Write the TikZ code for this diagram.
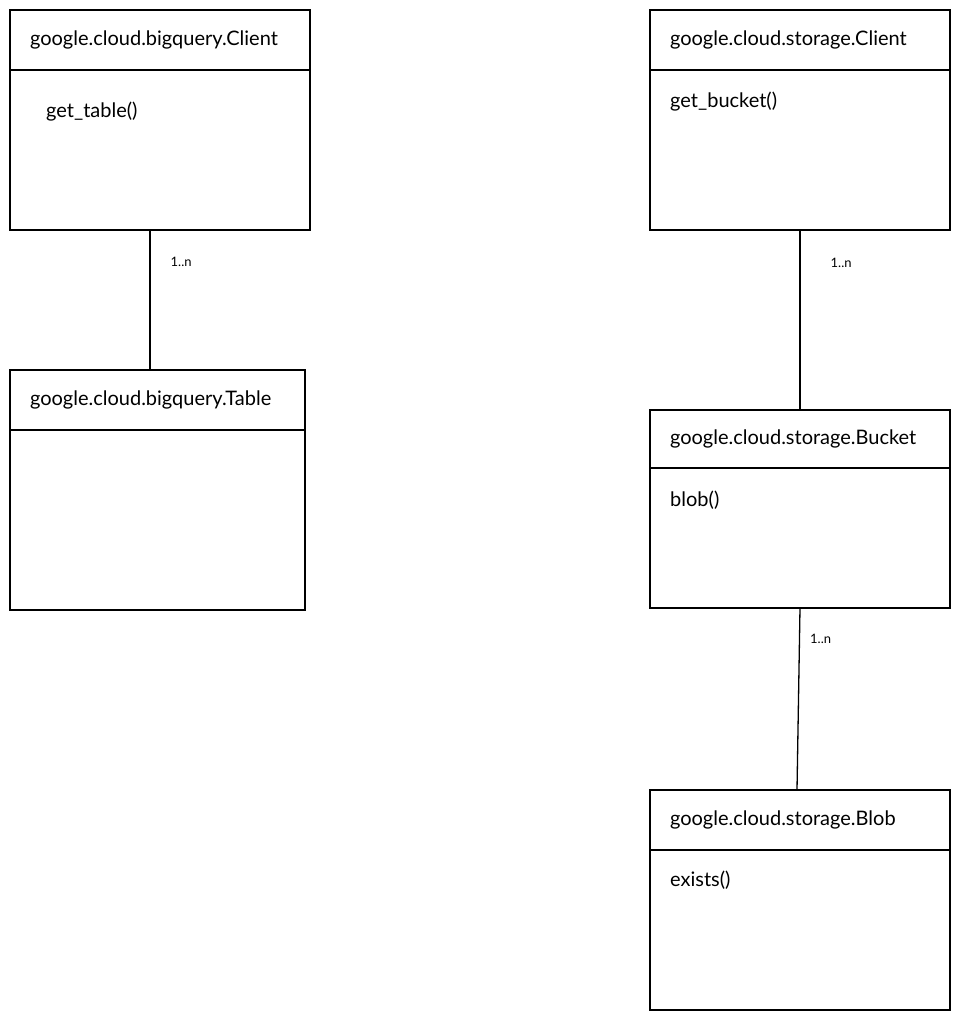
\documentclass[tikz,border=0pt]{standalone}
\usepackage{fontspec}
\setmainfont{Lato}
\usetikzlibrary{positioning}

\begin{document}
\begin{tikzpicture}
			[x=1pt,y=-1pt,line cap=round,
			%Styles
			class title/.style={draw,line width=1.6pt,outer sep=0pt,anchor=north west,inner xsep=20pt,inner ysep=0pt,
				text width=#1,align=left,minimum height=60pt,font=\fontsize{20}{24}\selectfont},
			class body/.style={draw,line width=1.6pt,outer sep=0pt,inner sep=0pt,minimum width=#1},
			method/.style={anchor=west,inner sep=0pt,font=\fontsize{20}{24}\selectfont},
			link/.style={line width=1.3pt},
			multiplicity/.style={inner sep=0pt,font=\fontsize{13}{15}\selectfont}
			]
			\useasboundingbox (0,0) rectangle (960,1020);
			
			%The graphic
			\node[class title=260pt] (bqclient) at (10,10) {google.cloud.bigquery.Client};
			\node[class body=300pt,minimum height=160pt,below=0pt of bqclient] (bqclientbody) {};
			\node[method] (gettable) at ([xshift=36pt,yshift=-42pt]bqclientbody.north west) {get\_table()};
			
			\node[class title=255pt] (bqtable) at (10,370) {google.cloud.bigquery.Table};
			\node[class body=295pt,minimum height=180pt,below=0pt of bqtable] (bqtablebody) {};
			
			\node[class title=260pt] (stclient) at (650,10) {google.cloud.storage.Client};
			\node[class body=300pt,minimum height=160pt,below=0pt of stclient] (stclientbody) {};
			\node[method] (getbucket) at ([xshift=20pt,yshift=-32pt]stclientbody.north west) {get\_bucket()};
			
			\node[class title=260pt,minimum height=58pt] (bucket) at (650,410) {google.cloud.storage.Bucket};
			\node[class body=300pt,minimum height=140pt,below=0pt of bucket] (bucketbody) {};
			\node[method] (blobm) at ([xshift=20pt,yshift=-32pt]bucketbody.north west) {blob()};
			
			\node[class title=260pt] (blob) at (650,790) {google.cloud.storage.Blob};
			\node[class body=300pt,minimum height=160pt,below=0pt of blob] (blobbody) {};
			\node[method] (exists) at ([xshift=20pt,yshift=-30pt]blobbody.north west) {exists()};
			
			\draw[link] ([xshift=-10pt]bqclientbody.south) -- ([xshift=-7.5pt]bqtable.north)
				node[multiplicity,pos=0.23,right=20pt] {1..n};
			\draw[link] (stclientbody.south) -- (bucket.north)
				node[multiplicity,pos=0.18,right=30pt] {1..n};
			\draw[link] (bucketbody.south) -- ([xshift=-3pt]blob.north)
				node[multiplicity,pos=0.17,right=10pt] {1..n};
		\end{tikzpicture}
\end{document}
